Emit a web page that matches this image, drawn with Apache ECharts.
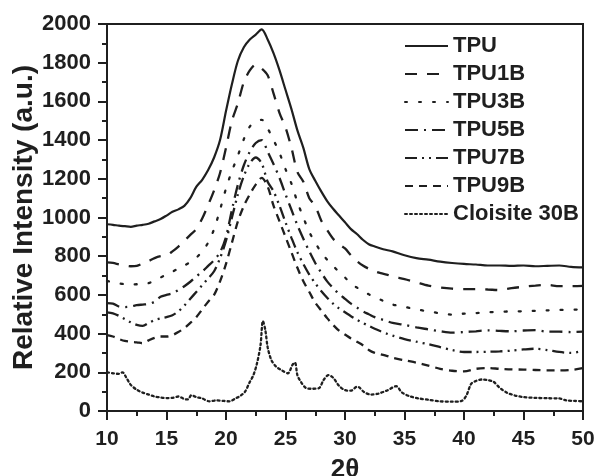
<!DOCTYPE html>
<html>
<head>
<meta charset="utf-8">
<script src="https://cdn.jsdelivr.net/npm/echarts@6/dist/echarts.min.js"></script>
<style>
  html, body { margin: 0; padding: 0; background: #fff; }
  #chart { width: 596px; height: 476px; }
</style>
</head>
<body>
<div id="chart"></div>
<script>
// ---- data ----
const seriesNames = ['TPU', 'TPU1B', 'TPU3B', 'TPU5B', 'TPU7B', 'TPU9B', 'Cloisite 30B'];

const theta = [10,10.5,11,11.5,12,12.5,13,13.5,14,14.5,15,15.5,16,16.5,17,17.5,18,18.5,19,19.5,
  20,20.5,21,21.5,22,22.5,23,23.5,24,24.5,25,25.5,26,26.5,27,27.5,28,28.5,29,29.5,
  30,30.5,31,31.5,32,32.5,33,33.5,34,35,36,37,38,39,40,41,42,43,44,45,46,47,48,49,50];

const tpu = [965,962,958,955,952,958,962,968,980,992,1010,1030,1042,1060,1100,1158,1195,1245,1310,1400,
  1550,1690,1810,1880,1920,1945,1972,1920,1848,1760,1660,1560,1450,1360,1250,1190,1135,1085,1045,1010,
  975,940,915,885,862,850,840,832,825,805,790,782,772,765,760,757,752,752,750,752,748,750,752,745,742];

const tpu1b = [768,765,758,752,748,750,762,775,790,800,805,825,850,880,910,940,995,1065,1140,1230,
  1360,1500,1590,1700,1760,1790,1770,1735,1640,1540,1465,1360,1235,1185,1100,1060,985,935,890,862,
  840,805,775,752,735,722,712,705,695,682,665,648,638,632,630,630,628,625,635,642,648,652,645,645,647];

const tpu3b = [672,665,660,655,653,655,657,661,675,690,705,720,737,752,770,792,825,870,940,1040,
  1150,1240,1320,1405,1470,1495,1505,1460,1400,1333,1250,1175,1080,1000,925,870,820,782,750,718,
  690,658,638,620,603,588,575,560,550,538,525,515,505,498,503,506,510,512,515,515,518,520,522,523,525];

const tpu5b = [558,555,540,537,540,547,550,553,565,590,600,608,625,645,668,695,720,750,780,820,
  900,1040,1170,1270,1340,1385,1400,1340,1275,1204,1120,1040,960,890,825,765,715,670,635,605,
  580,555,535,515,500,485,475,465,455,445,432,422,412,405,408,412,417,414,412,416,418,410,410,408,410];

const tpu7b = [510,505,492,475,458,445,440,455,470,478,485,495,515,545,580,615,650,685,722,790,
  880,1000,1120,1215,1280,1310,1280,1185,1135,1060,975,895,820,760,705,660,620,585,555,530,
  510,490,472,455,440,425,412,400,390,372,358,345,330,315,305,305,306,308,312,318,322,315,305,300,312];

const tpu9b = [392,385,372,362,358,355,350,365,378,385,385,392,408,428,455,485,525,565,600,670,
  760,870,980,1060,1120,1170,1205,1160,1060,980,900,820,740,670,615,560,520,480,445,415,
  395,375,358,340,315,300,293,285,275,262,250,235,218,208,205,218,222,218,215,214,212,210,210,212,222];

const thetaClay = [10,10.5,11,11.3,11.6,12,12.5,13,13.5,14,14.5,15,15.5,16,16.5,16.8,17.1,17.5,18,18.6,
  19.2,19.8,20.3,20.8,21.2,21.6,22,22.3,22.6,22.9,23.1,23.3,23.5,23.8,24.2,24.7,25.2,25.6,25.8,26,
  26.3,26.7,27.2,27.8,28.2,28.6,29,29.5,30,30.5,31,31.2,31.6,32.2,32.8,33.5,34.3,34.8,35.5,36.2,
  37,38,39,39.8,40.2,40.6,41,41.5,42,42.5,43,43.6,44.3,45,46,47,48,48.6,49.3,50];

const cloisite = [200,195,192,200,175,135,110,95,85,75,70,67,68,75,62,60,82,72,65,50,
  55,52,50,65,78,100,150,185,245,340,465,420,330,265,230,210,195,240,250,185,
  150,120,115,118,160,185,172,130,108,105,125,122,98,85,90,105,128,95,75,65,
  58,50,48,52,80,140,155,163,160,150,120,95,80,72,68,66,65,55,52,50];

const xTicks = { min: 10, max: 50, interval: 5 };
const yTicks = { min: 0, max: 2000, interval: 200 };

// ---- styles ----
const ink = '#1f1f1f';
const dashPatterns = [
  'solid',
  [12, 10],
  [2, 12],
  [13, 6, 2, 6],
  [12, 5, 2, 5, 2, 5],
  [8, 6],
  [2, 3]
];

function zip(xs, ys) { return xs.map((x, i) => [x, ys[i]]); }

const allY = [tpu, tpu1b, tpu3b, tpu5b, tpu7b, tpu9b, cloisite];
const allX = [theta, theta, theta, theta, theta, theta, thetaClay];

const series = seriesNames.map((name, i) => ({
  name: name,
  type: 'line',
  data: zip(allX[i], allY[i]),
  showSymbol: false,
  symbol: 'none',
  smooth: 0.3,
  animation: false,
  lineStyle: {
    color: ink,
    width: i === 0 ? 2.2 : 2.3,
    type: dashPatterns[i],
    cap: i === 2 || i === 6 ? 'round' : 'butt'
  },
  itemStyle: { color: ink }
}));

const fontFamily = '"Liberation Sans", Arial, Helvetica, sans-serif';

const chart = echarts.init(document.getElementById('chart'), null, { renderer: 'canvas' });
chart.setOption({
  backgroundColor: '#fff',
  animation: false,
  grid: {
    left: 107, right: 13, top: 24, bottom: 65,
    containLabel: false,
    outerBoundsMode: 'none',
    show: true, borderColor: ink, borderWidth: 2, backgroundColor: 'transparent'
  },
  legend: {
    orient: 'vertical',
    left: 399,
    top: 30,
    itemWidth: 43,
    itemHeight: 14,
    itemGap: 6,
    selectedMode: false,
    itemStyle: { opacity: 0, borderWidth: 0 },
    textStyle: { fontFamily: fontFamily, fontSize: 22, fontWeight: 'bold', color: ink, lineHeight: 22 },
    data: seriesNames
  },
  xAxis: {
    type: 'value',
    min: xTicks.min, max: xTicks.max, interval: xTicks.interval,
    name: '2θ',
    nameLocation: 'middle',
    nameGap: 46,
    nameTextStyle: { fontFamily: fontFamily, fontSize: 26, fontWeight: 'bold', color: ink },
    axisLine: { show: true, lineStyle: { color: ink, width: 2 } },
    axisTick: { show: true, inside: false, length: 9, lineStyle: { color: ink, width: 2 } },
    minorTick: { show: true, splitNumber: 2, length: 5, lineStyle: { color: ink, width: 2 } },
    splitLine: { show: false },
    axisLabel: { fontFamily: fontFamily, fontSize: 21, fontWeight: 'bold', color: ink, margin: 18 }
  },
  yAxis: {
    type: 'value',
    min: yTicks.min, max: yTicks.max, interval: yTicks.interval,
    name: 'Relative Intensity (a.u.)',
    nameLocation: 'middle',
    nameGap: 69,
    nameMoveOverlap: false,
    nameTextStyle: { fontFamily: fontFamily, fontSize: 28, fontWeight: 'bold', color: ink },
    axisLine: { show: true, lineStyle: { color: ink, width: 2 } },
    axisTick: { show: true, inside: false, length: 9, lineStyle: { color: ink, width: 2 } },
    minorTick: { show: true, splitNumber: 2, length: 5, lineStyle: { color: ink, width: 2 } },
    splitLine: { show: false },
    axisLabel: {
      fontFamily: fontFamily, fontSize: 22, fontWeight: 'bold', color: ink, margin: 16,
      formatter: function (v) { return String(v); }
    }
  },
  series: series
});
</script>
</body>
</html>
